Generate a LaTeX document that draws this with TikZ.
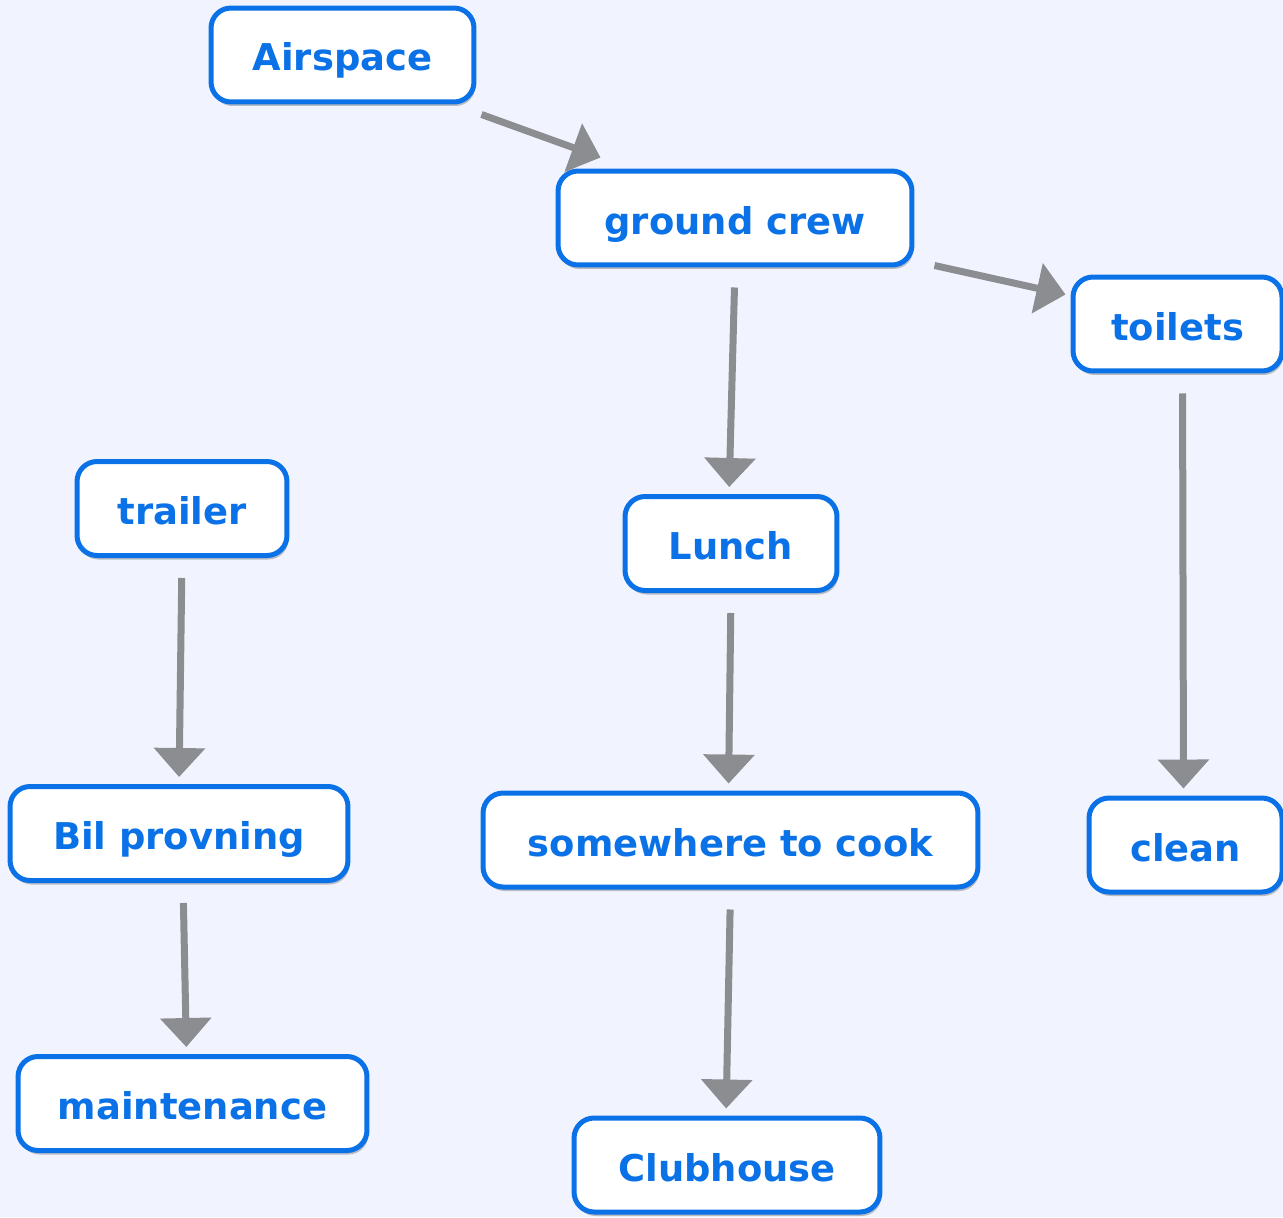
\documentclass[tikz,border=0pt]{standalone}
\usepackage{fontspec}
\setmainfont{DejaVu Sans}
\usetikzlibrary{arrows.meta,shadows}
\definecolor{bgcol}{HTML}{F1F4FE}
\definecolor{cmblue}{HTML}{0A72E6}
\definecolor{linkgray}{HTML}{8C8D91}
\begin{document}
\begin{tikzpicture}[
        x=0.02cm,y=-0.02cm,
        concept/.style={
          draw=cmblue,
          fill=white,
          line width=0.1cm,
          rounded corners=0.4cm,
          text=cmblue,
          font=\fontsize{21}{24}\selectfont\bfseries,
          minimum height=1.88cm,
          text height=0.64cm,
          text depth=0pt,
          inner xsep=0pt,
          drop shadow={shadow xshift=0.03cm,shadow yshift=-0.08cm,opacity=0.4,fill=black!60}
          },
        link/.style={
          draw=linkgray,
          line width=0.14cm,
          ->
          },
        >={Triangle[length=0.58cm,width=1cm]}
        ]
        \fill[bgcol] (0,0) rectangle (1283,1217);
        \useasboundingbox (0,0) rectangle (1283,1217);
        % concepts
        \node[concept,minimum width=5.26cm] (air) at (342.5,55) {Airspace};
        \node[concept,minimum width=7.08cm] (gc) at (735,218) {ground crew};
        \node[concept,minimum width=4.18cm] (toilets) at (1177.5,324) {toilets};
        \node[concept,minimum width=4.2cm] (trailer) at (182,508.5) {trailer};
        \node[concept,minimum width=4.24cm] (lunch) at (731,543.5) {Lunch};
        \node[concept,minimum width=6.76cm] (bil) at (179,833.5) {Bil provning};
        \node[concept,minimum width=9.9cm] (cook) at (730.5,840) {somewhere to cook};
        \node[concept,minimum width=3.86cm] (clean) at (1185.5,845) {clean};
        \node[concept,minimum width=6.98cm] (maint) at (192.5,1103.5) {maintenance};
        \node[concept,minimum width=6.12cm] (club) at (727,1165) {Clubhouse};
        % links
        \draw[link] ([shift={(5,10)}]air.south east) -- ([shift={(45,-11)}]gc.north west);
        \draw[link] ([shift={(20,-2)}]gc.south east) -- ([shift={(-5,20)}]toilets.north west);
        \foreach \a/\b/\sa/\sb in {gc/lunch/0/-2,lunch/cook/0/-2,cook/club/0/-1,trailer/bil/0/0,bil/maint/4/-6,toilets/clean/5/-2}
          \draw[link,shorten <=0.4cm,shorten >=0.14cm] ([shift={(\sa,0)}]\a.south) -- ([shift={(\sb,0)}]\b.north);
\end{tikzpicture}
\end{document}
